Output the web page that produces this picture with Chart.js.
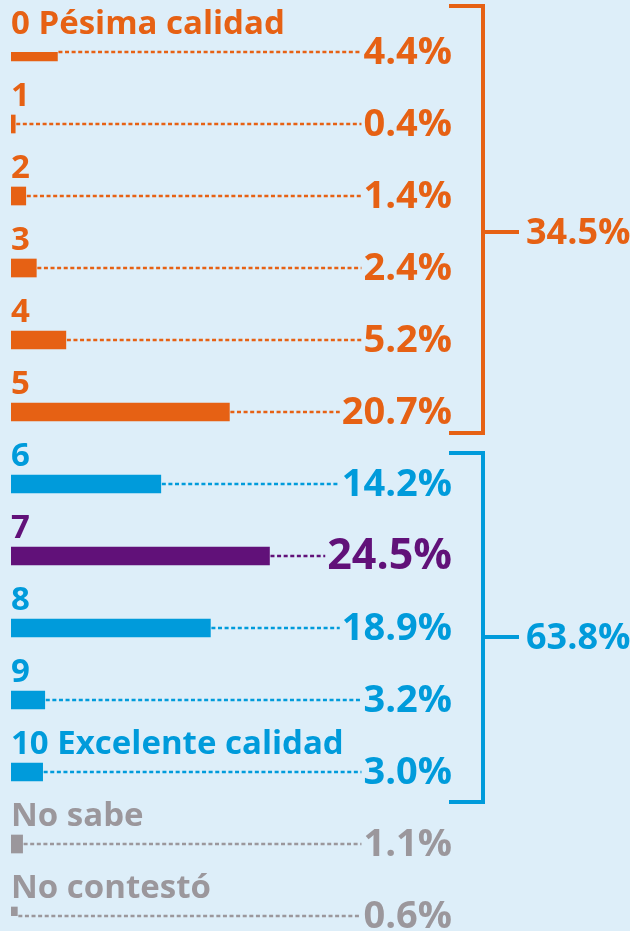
<!DOCTYPE html>
<html>
<head>
<meta charset="utf-8">
<script src="https://cdn.jsdelivr.net/npm/chart.js@4.4.1/dist/chart.umd.min.js"></script>
<style>
  html, body { margin: 0; padding: 0; background: #ddeef9; }
  #wrap { width: 630px; height: 931px; position: relative; }
</style>
</head>
<body>
<div id="wrap"><canvas id="c"></canvas></div>
<script>
// ---- data ----
const categories = ["0 Pésima calidad", "1", "2", "3", "4", "5", "6", "7", "8", "9", "10 Excelente calidad", "No sabe", "No contestó"];
const values = [4.4, 0.4, 1.4, 2.4, 5.2, 20.7, 14.2, 24.5, 18.9, 3.2, 3.0, 1.1, 0.6];
const valueLabels = ["4.4%", "0.4%", "1.4%", "2.4%", "5.2%", "20.7%", "14.2%", "24.5%", "18.9%", "3.2%", "3.0%", "1.1%", "0.6%"];
const groupFrom = [0, 6];
const groupTo = [5, 10];
const groupLabels = ["34.5%", "63.8%"];

// ---- styles ----
const ORANGE = "#e66114", BLUE = "#009bdb", PURPLE = "#611179", GRAY = "#9b979c";
const barColors = [ORANGE, ORANGE, ORANGE, ORANGE, ORANGE, ORANGE, BLUE, PURPLE, BLUE, BLUE, BLUE, GRAY, GRAY];
const groupColors = [ORANGE, BLUE];
const FONT = "'Open Sans', sans-serif";
const W = "bold ";

const overlay = {
  id: "overlay",
  beforeDraw(chart) {
    const ctx = chart.ctx;
    ctx.save();
    ctx.fillStyle = "#ddeef9";
    ctx.fillRect(0, 0, chart.width, chart.height);
    ctx.restore();
  },
  afterDatasetsDraw(chart) {
    const ctx = chart.ctx;
    const xs = chart.scales.x, ys = chart.scales.y;
    const valueRight = 452;
    ctx.save();
    categories.forEach((cat, i) => {
      const cy = ys.getPixelForValue(i);
      const col = barColors[i];
      // category label
      ctx.fillStyle = col;
      ctx.font = W + "33px " + FONT;
      ctx.textAlign = "left";
      ctx.textBaseline = "alphabetic";
      ctx.fillText(cat, xs.left, cy - 18);
      // value label
      const big = i === 7;
      ctx.font = W + (big ? 43 : 38) + "px " + FONT;
      ctx.textAlign = "right";
      ctx.fillText(valueLabels[i], valueRight, cy + (big ? 13 : 12));
      const w = ctx.measureText(valueLabels[i]).width;
      // dotted leader
      const x0 = xs.getPixelForValue(values[i]);
      ctx.strokeStyle = col;
      ctx.lineWidth = 2.5;
      ctx.setLineDash([4, 2.6]);
      ctx.beginPath();
      ctx.moveTo(x0 + 1, cy);
      ctx.lineTo(valueRight - w - 2, cy);
      ctx.stroke();
    });
    ctx.setLineDash([]);
    // brackets
    const topOff = [46, 31], botOff = [21, 30], tickOff = [0, 9];
    groupLabels.forEach((lab, g) => {
      const col = groupColors[g];
      const yTop = ys.getPixelForValue(groupFrom[g]) - topOff[g];
      const yBot = ys.getPixelForValue(groupTo[g]) + botOff[g];
      const yMid = (ys.getPixelForValue(groupFrom[g]) + ys.getPixelForValue(groupTo[g])) / 2 + tickOff[g];
      const bx = 483;
      ctx.strokeStyle = col;
      ctx.lineWidth = 4;
      ctx.lineCap = "butt";
      ctx.lineJoin = "miter";
      ctx.beginPath();
      ctx.moveTo(449, yTop);
      ctx.lineTo(bx, yTop);
      ctx.lineTo(bx, yBot);
      ctx.lineTo(449, yBot);
      ctx.stroke();
      ctx.beginPath();
      ctx.moveTo(bx, yMid);
      ctx.lineTo(519, yMid);
      ctx.stroke();
      ctx.fillStyle = col;
      ctx.font = W + "36px " + FONT;
      ctx.textAlign = "left";
      ctx.textBaseline = "alphabetic";
      ctx.fillText(lab, 526, yMid + 12);
    });
    ctx.restore();
  }
};

new Chart(document.getElementById("c"), {
  type: "bar",
  data: {
    labels: categories,
    datasets: [{
      data: values,
      backgroundColor: barColors,
      borderWidth: 0,
      barThickness: 18
    }]
  },
  options: {
    indexAxis: "y",
    responsive: true,
    maintainAspectRatio: false,
    animation: false,
    layout: { padding: { left: 11, right: 197, top: 52, bottom: 15 } },
    scales: {
      x: { display: false, min: 0, max: 40 },
      y: { display: false, offset: false }
    },
    plugins: { legend: { display: false }, tooltip: { enabled: false } }
  },
  plugins: [overlay]
});
</script>
</body>
</html>
